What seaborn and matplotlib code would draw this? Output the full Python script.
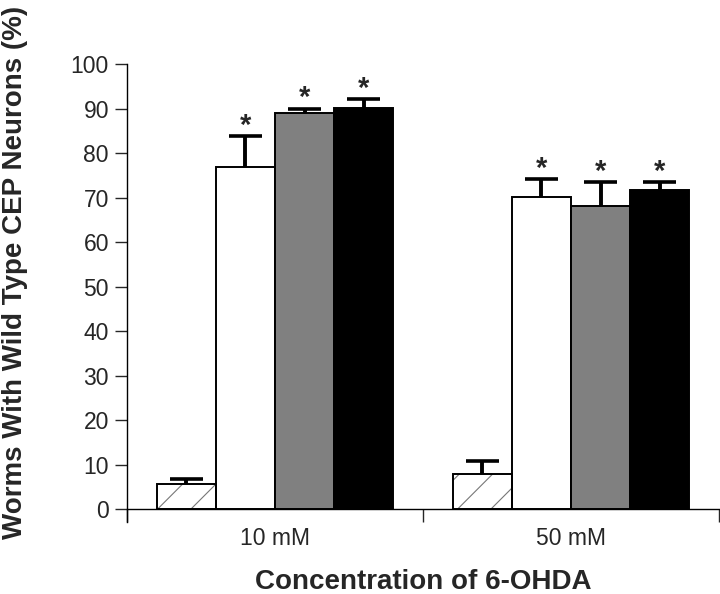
import numpy as np
import pandas as pd
import matplotlib
matplotlib.use("Agg")
import matplotlib.pyplot as plt
from matplotlib.patches import Rectangle
import seaborn as sns

# Values (% worms with wild type CEP neurons)
concentrations = ["10 mM", "50 mM"]
strains = ["control", "strain 1", "strain 2", "strain 3"]
values_10mM = [5.7, 76.9, 89.1, 90.2]
errors_10mM = [1.0, 6.9, 0.9, 1.9]
values_50mM = [7.8, 70.1, 68.0, 71.6]
errors_50mM = [3.0, 4.0, 5.4, 1.8]
significant = [False, True, True, True]
bar_colors = ["white", "white", "#808080", "black"]
y_ticks = list(range(0, 101, 10))

sns.set_style("ticks")
plt.rcParams["font.family"] = ["Liberation Sans", "DejaVu Sans"]
plt.rcParams["hatch.linewidth"] = 0.8

df = pd.DataFrame({
    "conc": np.repeat(concentrations, len(strains)),
    "strain": strains * len(concentrations),
    "value": values_10mM + values_50mM,
    "err": errors_10mM + errors_50mM,
    "sig": significant * len(concentrations),
})

fig = plt.figure(figsize=(7.2, 5.94), dpi=100)
ax = fig.add_axes([127 / 720, 1 - 522 / 594, 592 / 720, 458 / 594])

sns.barplot(data=df, x="conc", y="value", hue="strain", hue_order=strains,
            order=concentrations, palette=bar_colors, edgecolor="black",
            linewidth=1.4, errorbar=None, legend=False, width=0.8, ax=ax)

# bars sorted left to right line up with df rows (conc, then strain)
bars = sorted([p for p in ax.patches if p.get_width() > 0],
              key=lambda p: p.get_x())
xs = np.array([p.get_x() + p.get_width() / 2 for p in bars])
bw = bars[0].get_width()
tops = df["value"].values + df["err"].values

# hatched control bars: grey hatch, black outline
for p, s in zip(bars, df["strain"]):
    if s == strains[0]:
        p.set_hatch("/")
        p.set_edgecolor("#777777")
        p.set_linewidth(0)
        ax.add_patch(Rectangle((p.get_x(), p.get_y()), p.get_width(),
                               p.get_height(), fill=False,
                               edgecolor="black", linewidth=1.4, zorder=2))

# upward-only error bars
ax.vlines(xs, df["value"].values, tops, colors="black", linewidth=2.8,
          zorder=3)
ax.hlines(tops, xs - bw * 0.28, xs + bw * 0.28, colors="black",
          linewidth=2.6, zorder=3)

for x, t, s in zip(xs, tops, df["sig"]):
    if s:
        ax.annotate("*", xy=(x, t), xytext=(0, 1.5), textcoords="offset points",
                    ha="center", va="baseline", fontsize=21,
                    fontweight="bold")

ax.set_ylim(-2.9, 100)
ax.set_xlim(-0.5, 1.5)
ax.set_yticks(y_ticks)
ax.tick_params(axis="y", length=9, width=1.0, pad=4, labelsize=16.5)
ax.set_xticks([-0.5, 0.5, 1.5], minor=True)
ax.tick_params(axis="x", which="major", length=0, pad=13, labelsize=16.5)
ax.tick_params(axis="x", which="minor", length=9, width=1.0, direction="out")

ax.spines["top"].set_visible(False)
ax.spines["right"].set_visible(False)
ax.spines["bottom"].set_position(("data", 0))
for sp in ["left", "bottom"]:
    ax.spines[sp].set_linewidth(1.0)
    ax.spines[sp].set_color("black")

ax.set_xlabel("Concentration of 6-OHDA", fontsize=20, fontweight="bold")
ax.set_ylabel("Worms With Wild Type CEP Neurons (%)", fontsize=20,
              fontweight="bold")
ax.xaxis.set_label_coords(0.5, -0.103)
ax.yaxis.set_label_coords(-0.167, 0.544)
ax.xaxis.label.set_verticalalignment("top")

fig.savefig("out.png", dpi=100)
